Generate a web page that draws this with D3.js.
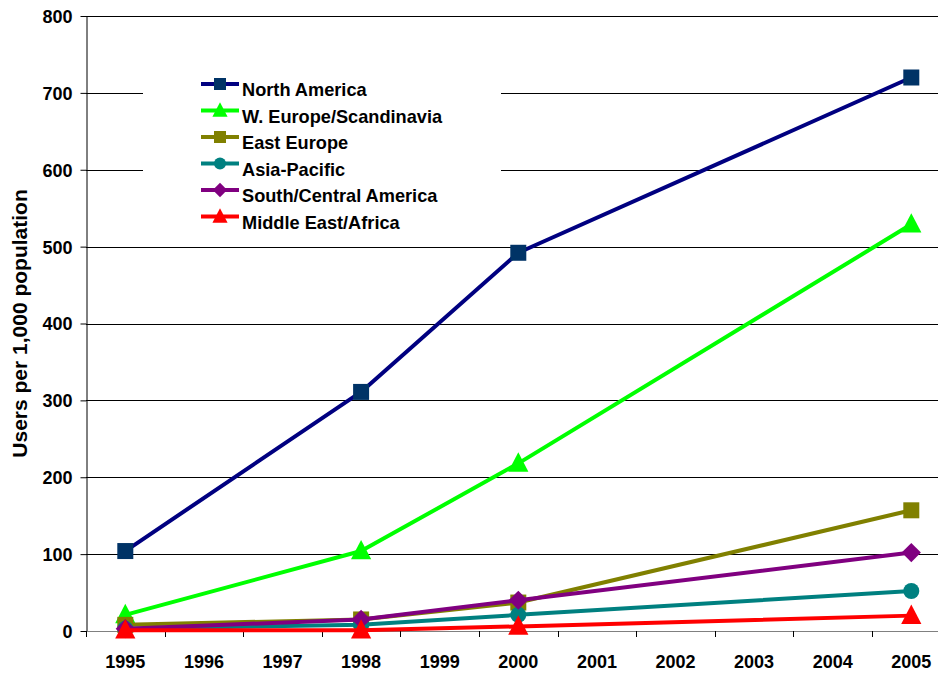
<!DOCTYPE html>
<html>
<head>
<meta charset="utf-8">
<script src="https://cdn.jsdelivr.net/npm/d3@7"></script>
<style>
  html, body { margin: 0; padding: 0; background: #fff; }
  svg { display: block; font-family: "Liberation Sans", Arial, sans-serif; }
</style>
</head>
<body>
<svg id="chart" width="938" height="675"></svg>
<script>
// Internet users per 1,000 population by region
const years = ["1995", "1996", "1997", "1998", "1999", "2000", "2001", "2002", "2003", "2004", "2005"];
const yTicks = [0, 100, 200, 300, 400, 500, 600, 700, 800];

const seriesNames = ["North America", "W. Europe/Scandinavia", "East Europe", "Asia-Pacific", "South/Central America", "Middle East/Africa"];
const lineColors = ["#000080", "#00FF00", "#808000", "#008080", "#800080", "#FF0000"];
const markerColors = ["#003366", "#00FF00", "#808000", "#008080", "#800080", "#FF0000"];
const markerShapes = ["square", "triangle", "square", "circle", "diamond", "triangle"];

// values at the surveyed years only
const obsYears = ["1995", "1998", "2000", "2005"];
const northAmerica = [104, 311, 492, 720];
const westEurope = [21, 104, 218, 529];
const eastEurope = [8, 15, 37, 157];
const asiaPacific = [3, 8, 21, 52];
const southCentral = [3, 15, 40, 102];
const middleEast = [1, 1, 6, 20];
const seriesValues = [northAmerica, westEurope, eastEurope, asiaPacific, southCentral, middleEast];

const svg = d3.select("#chart");
const plotLeft = 86, plotTop = 16, plotBottom = 631, band = 78.6;

const x = d3.scaleBand().domain(years).range([plotLeft, plotLeft + band * years.length]).padding(0);
const y = d3.scaleLinear().domain([0, 800]).range([plotBottom, plotTop]);
const cx = d => x(d) + x.bandwidth() / 2;

// horizontal gridlines
svg.append("g").selectAll("line").data(yTicks.filter(t => t > 0)).join("line")
  .attr("x1", plotLeft).attr("x2", 938)
  .attr("y1", d => Math.round(y(d)) + 0.5).attr("y2", d => Math.round(y(d)) + 0.5)
  .attr("stroke", "#000").attr("stroke-width", 1);

// legend backdrop hides the gridlines behind it
svg.append("rect").attr("x", 143).attr("y", 58).attr("width", 358).attr("height", 180).attr("fill", "#fff");

// y axis
const yAxis = svg.append("g").attr("transform", `translate(${plotLeft + 0.5},0)`)
  .call(d3.axisLeft(y).tickValues(yTicks).tickSize(6).tickSizeOuter(0).tickPadding(8));
yAxis.select(".domain").attr("stroke", "#000");
yAxis.selectAll(".tick line").attr("stroke", "#000");
yAxis.selectAll("text").attr("font-size", 18).attr("font-weight", "bold").attr("fill", "#000")
  .attr("dy", "0.36em");

// x axis with ticks between categories
const xAxis = svg.append("g").attr("transform", `translate(0,${plotBottom + 0.5})`)
  .call(d3.axisBottom(x).tickSize(0).tickSizeOuter(0).tickPadding(24));
xAxis.select(".domain").attr("stroke", "#808080").attr("d", `M${plotLeft},0H938`);
xAxis.selectAll("text").attr("font-size", 18).attr("font-weight", "bold").attr("fill", "#000");
svg.append("g").selectAll("line").data(years).join("line")
  .attr("x1", d => Math.round(x(d)) + 0.5).attr("x2", d => Math.round(x(d)) + 0.5)
  .attr("y1", plotBottom).attr("y2", plotBottom + 6).attr("stroke", "#000");

// y axis title
svg.append("text")
  .attr("transform", `translate(27,${(plotTop + plotBottom) / 2}) rotate(-90)`)
  .attr("text-anchor", "middle")
  .attr("font-size", 21).attr("font-weight", "bold").attr("fill", "#000")
  .text("Users per 1,000 population");

function marker(sel, shape, color, s) {
  if (shape === "square") {
    sel.append("rect").attr("x", -s / 2).attr("y", -s / 2).attr("width", s).attr("height", s).attr("fill", color);
  } else if (shape === "triangle") {
    const t = s * 1.15;
    sel.append("path").attr("d", `M0,${-t * 0.6}L${t * 0.55},${t * 0.45}L${-t * 0.55},${t * 0.45}Z`).attr("fill", color);
  } else if (shape === "circle") {
    sel.append("circle").attr("r", s / 2).attr("fill", color);
  } else if (shape === "diamond") {
    const r = s * 0.6;
    sel.append("path").attr("d", `M0,${-r}L${r},0L0,${r}L${-r},0Z`).attr("fill", color);
  }
}

const line = d3.line().x(d => cx(d.year)).y(d => y(d.value));

seriesValues.forEach((vals, i) => {
  const pts = obsYears.map((yr, j) => ({ year: yr, value: vals[j] }));
  const g = svg.append("g");
  g.append("path").datum(pts).attr("d", line)
    .attr("fill", "none").attr("stroke", lineColors[i]).attr("stroke-width", 4)
    .attr("stroke-linejoin", "round");
  pts.forEach(p => {
    const m = g.append("g").attr("transform", `translate(${cx(p.year)},${y(p.value)})`);
    marker(m, markerShapes[i], markerColors[i], 16);
  });
});

// legend
const legend = svg.append("g");
seriesNames.forEach((name, i) => {
  const ly = 84 + i * 26.5;
  const g = legend.append("g").attr("transform", `translate(0,${ly})`);
  g.append("line").attr("x1", 201).attr("x2", 239).attr("y1", 0).attr("y2", 0)
    .attr("stroke", lineColors[i]).attr("stroke-width", 4);
  const m = g.append("g").attr("transform", "translate(220,0)");
  marker(m, markerShapes[i], markerColors[i], 12);
  g.append("text").attr("x", 242).attr("y", 12)
    .attr("font-size", 18.2).attr("font-weight", "bold").attr("fill", "#000")
    .text(name);
});
</script>
</body>
</html>
